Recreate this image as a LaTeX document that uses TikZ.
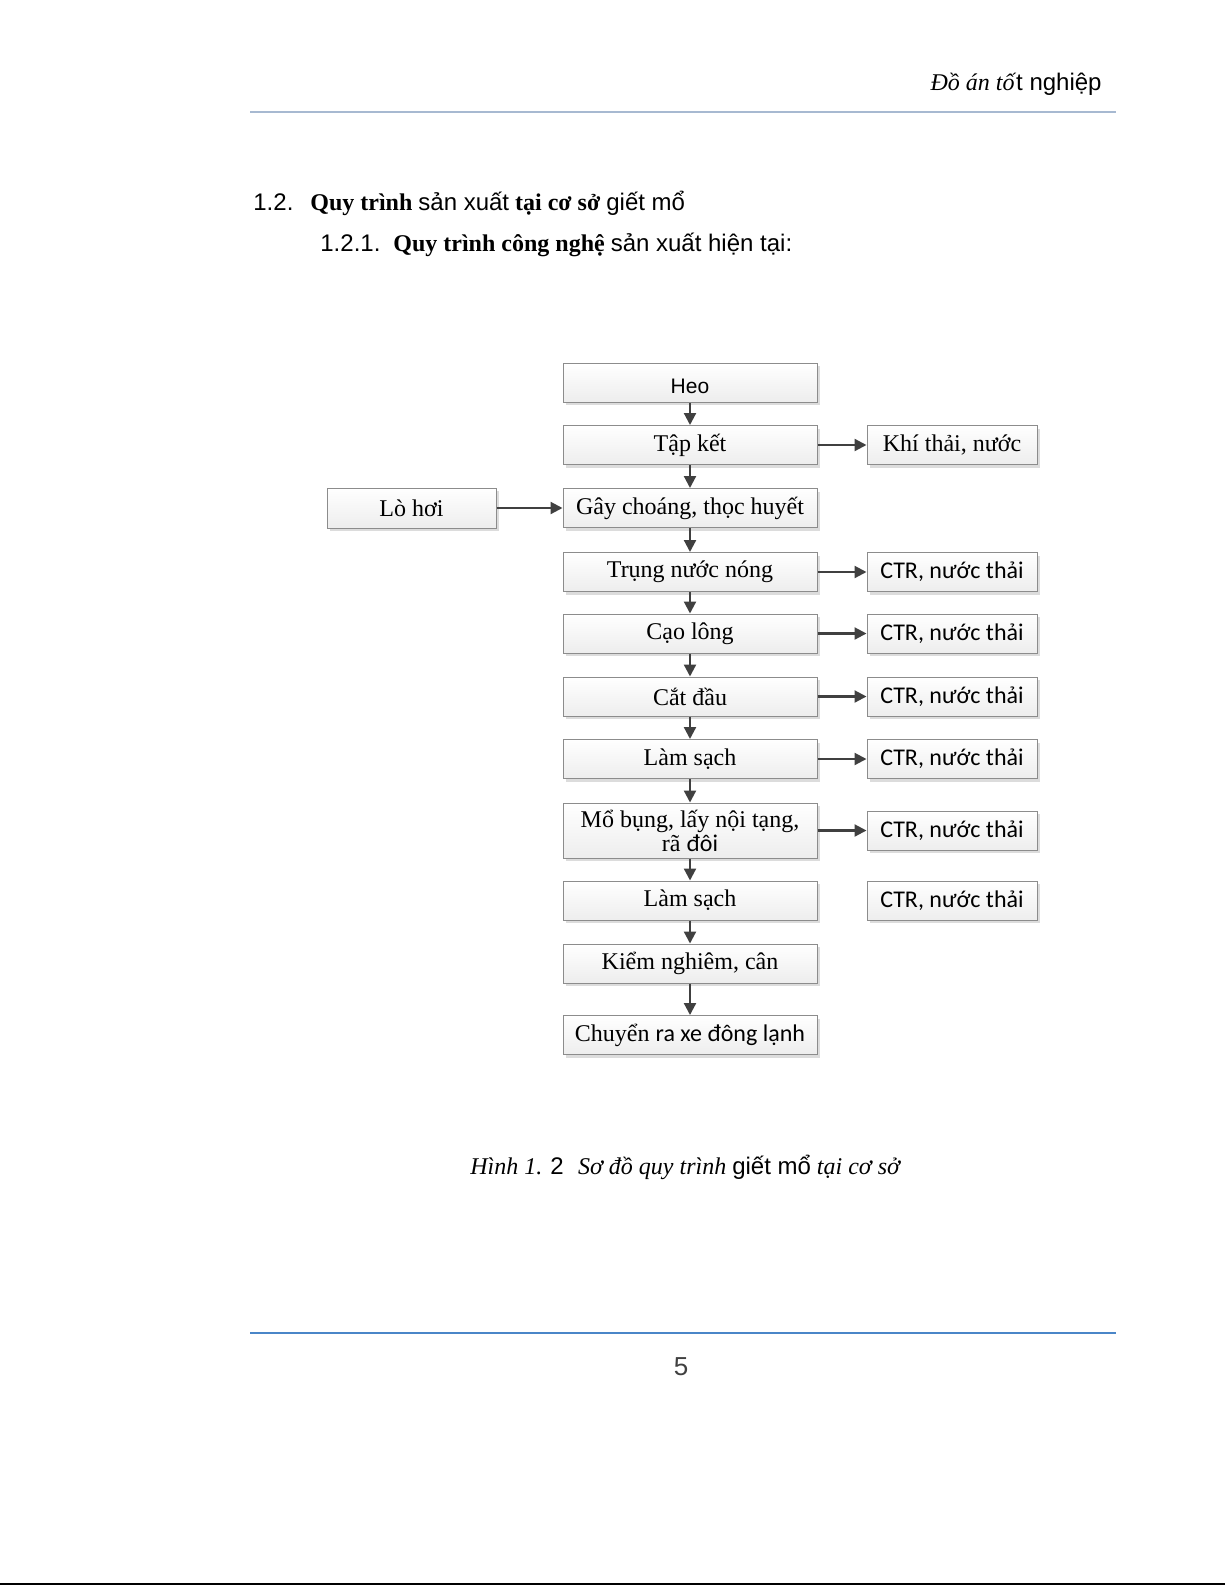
\documentclass[tikz,border=0pt]{standalone}
\usepackage{fontspec}
\setmainfont{Liberation Serif}
\newfontfamily\arialf{Liberation Sans}
\newfontfamily\calibf{Carlito}
\usetikzlibrary{arrows.meta,shadows}
\definecolor{boxline}{HTML}{8C8C8C}
\definecolor{arrowc}{HTML}{404040}
\definecolor{hdrline}{HTML}{A7B9D1}
\definecolor{ftrline}{HTML}{4A86C8}
\tikzset{
  box/.style={draw=boxline, line width=0.5pt, top color=white, bottom color=gray!14,
    inner sep=0pt, align=center, font=\fontsize{12}{13}\selectfont,
    drop shadow={shadow xshift=1.5pt, shadow yshift=-1.5pt, fill=gray!45, opacity=0.6}},
  mainbox/.style={box, minimum width=127pt, minimum height=19.5pt},
  sidebox/.style={box, minimum width=85pt, minimum height=19.5pt},
  flow/.style={draw=arrowc, line width=1.1pt, -{Triangle[length=6pt,width=6pt]}},
  txt/.style={inner sep=0pt}
}
\begin{document}
\begin{tikzpicture}[x=0.5pt,y=-0.5pt]
\useasboundingbox (0,0) rectangle (1225,1585);
\fill[white] (0,0) rectangle (1225,1585);
% header
\node[txt, anchor=base east, font=\fontsize{12}{14}\selectfont] (hdr) at (1102,90) {\textit{Đồ án tố}{\arialf t nghiệp}};
\draw[hdrline, line width=0.6pt] (250,112) -- (1116,112);
% headings
\node[txt, anchor=base west, font=\fontsize{12}{14}\selectfont\arialf] (h1n) at (253,210) {1.2.};
\node[txt, anchor=base west, font=\fontsize{12}{14}\selectfont] (h1) at (310,210) {\textbf{Quy trình} {\arialf sản xuất} \textbf{tại cơ sở} {\arialf giết mổ}};
\node[txt, anchor=base west, font=\fontsize{12}{14}\selectfont\arialf] (h2n) at (320,251) {1.2.1.};
\node[txt, anchor=base west, font=\fontsize{12}{14}\selectfont] (h2) at (393,251) {\textbf{Quy trình công nghệ} {\arialf sản xuất hiện tại:}};
% main column
\node[mainbox, text height=10.5pt, text depth=0pt] (heo) at (690,382.5) {\fontsize{10.5}{12}\selectfont\arialf Heo};
\node[mainbox] (tapket) at (690,445) {Tập kết};
\node[mainbox] (gay) at (690,508) {Gây choáng, thọc huyết};
\node[mainbox] (trung) at (690,572) {Trụng nước nóng};
\node[mainbox] (cao) at (690,633.5) {Cạo lông};
\node[mainbox] (cat) at (690,696.5) {Cắt đầu};
\node[mainbox] (lam1) at (690,759) {Làm sạch};
\node[mainbox, minimum height=27.5pt] (mo) at (690,830.5) {Mổ bụng, lấy nội tạng,\\[-1pt] rã {\calibf đôi}};
\node[mainbox] (lam2) at (690,900.5) {Làm sạch};
\node[mainbox] (kiem) at (690,963.5) {Kiểm nghiêm, cân};
\node[mainbox] (chuyen) at (690,1035) {Chuyển {\calibf ra xe đông lạnh}};
% left
\node[box, minimum width=84.5pt, minimum height=20pt] (lohoi) at (411.5,508) {Lò hơi};
% right column
\node[sidebox] (khi) at (952,445) {Khí thải, nước};
\node[sidebox] (c1) at (952,572) {\calibf CTR, nước thải};
\node[sidebox] (c2) at (952,633.5) {\calibf CTR, nước thải};
\node[sidebox] (c3) at (952,696.5) {\calibf CTR, nước thải};
\node[sidebox] (c4) at (952,759) {\calibf CTR, nước thải};
\node[sidebox] (c5) at (952,830.5) {\calibf CTR, nước thải};
\node[sidebox] (c6) at (952,900.5) {\calibf CTR, nước thải};
% vertical flow
\foreach \a/\b in {heo/tapket,tapket/gay,gay/trung,trung/cao,cao/cat,cat/lam1,lam1/mo,mo/lam2,lam2/kiem,kiem/chuyen}
  \draw[flow] (\a.south) -- (\b.north);
% side flows
\foreach \a/\b in {tapket/khi,trung/c1,cao/c2,cat/c3,lam1/c4,mo/c5}
  \draw[flow] (\a.east) -- (\b.west);
\draw[flow] (lohoi.east) -- (gay.west);
% caption
\node[txt, anchor=base west, font=\fontsize{12}{14}\selectfont] (cap) at (470,1174) {\textit{Hình 1.} {\arialf 2}\hspace{0.6em}\textit{Sơ đồ quy trình} {\arialf giết mổ} \textit{tại cơ sở}};
% footer
\draw[ftrline, line width=0.7pt] (250,1333) -- (1116,1333);
\node[txt, anchor=base, font=\fontsize{13}{15}\selectfont\arialf, text=arrowc] (pg) at (681,1375) {5};
\draw[black, line width=1pt] (0,1584) -- (1225,1584);
\end{tikzpicture}
\end{document}
